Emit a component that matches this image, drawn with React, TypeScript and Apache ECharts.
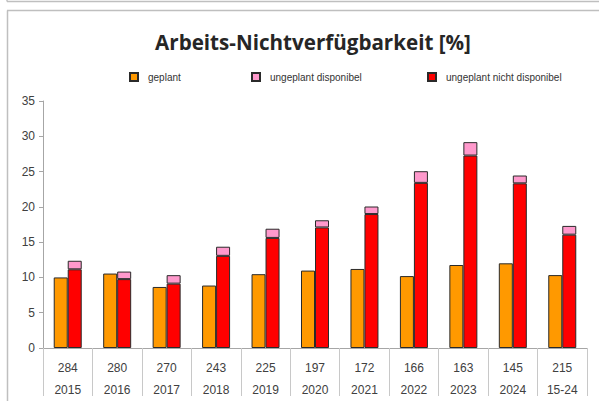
import React, { useEffect, useRef } from "react";
import * as echarts from "echarts";

const years = ["2015", "2016", "2017", "2018", "2019", "2020", "2021", "2022", "2023", "2024", "15-24"];
const counts = ["284", "280", "270", "243", "225", "197", "172", "166", "163", "145", "215"];
const geplant = [10.0, 10.55, 8.65, 8.85, 10.46, 10.97, 11.2, 10.19, 11.76, 12.0, 10.33];
const ungeplantNichtDisp = [11.15, 9.76, 9.12, 13.06, 15.6, 17.08, 18.98, 23.4, 27.27, 23.33, 16.06];
const ungeplantDisp = [1.21, 1.07, 1.2, 1.29, 1.3, 1.02, 1.07, 1.65, 1.9, 1.11, 1.24];
const yTicks = { min: 0, max: 35, interval: 5 };

const FONT = "'Liberation Sans', Arial, sans-serif";

export default function App() {
  const ref = useRef<HTMLDivElement>(null);
  useEffect(() => {
    if (!ref.current) return;
    const chart = echarts.init(ref.current, null, { renderer: "svg" });
    const categories = years.map((y, i) => counts[i] + "\n" + y);
    const legendBase = {
      top: 67,
      itemWidth: 8,
      itemHeight: 8,
      icon: "rect",
      selectedMode: false,
      textStyle: { fontFamily: FONT, fontSize: 10, color: "#333", padding: [0, 0, 0, 5] },
    };
    chart.setOption({
      animation: false,
      backgroundColor: "#fff",
      title: {
        text: "Arbeits-Nichtverfügbarkeit [%]",
        left: 308,
        textAlign: "center",
        top: 26,
        textStyle: { fontFamily: "'Open Sans', 'Liberation Sans', sans-serif", fontSize: 20.6, fontWeight: "bold", color: "#262626" },
      },
      legend: [
        { ...legendBase, left: 124, data: ["geplant"] },
        { ...legendBase, left: 246, data: ["ungeplant disponibel"] },
        { ...legendBase, left: 422, data: ["ungeplant nicht disponibel"] },
      ],
      grid: { left: 43, right: 12, top: 101, bottom: 48, containLabel: false },
      xAxis: {
        type: "category",
        data: categories,
        axisLine: { lineStyle: { color: "#a6a6a6", width: 1 } },
        axisTick: { show: true, length: 48, lineStyle: { color: "#c8c8c8", width: 1 } },
        axisLabel: {
          fontFamily: FONT,
          fontSize: 12,
          color: "#404040",
          lineHeight: 22,
          margin: 9,
          interval: 0,
        },
      },
      yAxis: {
        type: "value",
        min: yTicks.min,
        max: yTicks.max,
        interval: yTicks.interval,
        axisLine: { show: true, lineStyle: { color: "#a6a6a6", width: 1 } },
        axisTick: { show: true, length: 4, lineStyle: { color: "#a6a6a6" } },
        splitLine: { show: false },
        axisLabel: { fontFamily: FONT, fontSize: 12, color: "#404040", margin: 8 },
      },
      series: [
        {
          name: "geplant",
          type: "bar",
          stack: "g",
          data: geplant,
          barWidth: 14,
          barGap: "0%",
          itemStyle: { color: "#FF9900", borderColor: "#2a2a2a", borderWidth: 1 },
        },
        {
          name: "ungeplant nicht disponibel",
          type: "bar",
          stack: "u",
          data: ungeplantNichtDisp,
          barWidth: 14,
          barGap: "0%",
          itemStyle: { color: "#FF0000", borderColor: "#2a2a2a", borderWidth: 1 },
        },
        {
          name: "ungeplant disponibel",
          type: "bar",
          stack: "u",
          data: ungeplantDisp,
          barWidth: 14,
          barGap: "0%",
          itemStyle: { color: "#FF99CC", borderColor: "#2a2a2a", borderWidth: 1 },
        },
      ],
      graphic: [
        { type: "line", shape: { x1: 7, y1: 1.5, x2: 599, y2: 1.5 }, style: { stroke: "#bfbfbf", lineWidth: 1.5 } },
        { type: "line", shape: { x1: 7, y1: 0, x2: 7, y2: 1.5 }, style: { stroke: "#bfbfbf", lineWidth: 1.5 } },
        { type: "line", shape: { x1: 7, y1: 10.5, x2: 599, y2: 10.5 }, style: { stroke: "#bfbfbf", lineWidth: 1.5 } },
        { type: "line", shape: { x1: 7.5, y1: 10.5, x2: 7.5, y2: 401 }, style: { stroke: "#bfbfbf", lineWidth: 1.5 } },
      ],
    });
    return () => chart.dispose();
  }, []);
  return (
    <div
      ref={ref}
      style={{ position: "fixed", left: 0, top: 0, width: 599, height: 401 }}
    />
  );
}
